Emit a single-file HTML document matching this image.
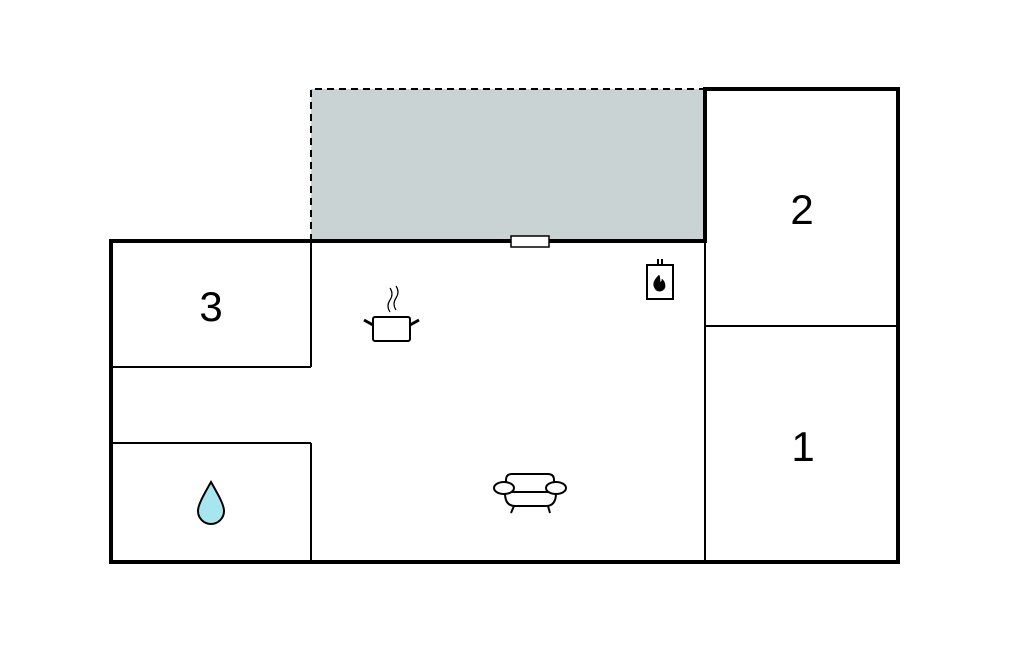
<!DOCTYPE html>
<html><head><meta charset="utf-8"><style>
html,body{margin:0;padding:0;background:#fff;}
svg{display:block;}
</style></head><body>
<svg width="1024" height="652" viewBox="0 0 1024 652" xmlns="http://www.w3.org/2000/svg">
<!-- terrace -->
<rect x="311" y="89" width="394" height="152" fill="#c9d3d3"/>
<path d="M311 241 V89 H705" fill="none" stroke="#000" stroke-width="2" stroke-dasharray="7,5"/>
<!-- inner walls -->
<g stroke="#000" stroke-width="2" fill="none">
<line x1="311" y1="241" x2="311" y2="367"/>
<line x1="111" y1="367" x2="311" y2="367"/>
<line x1="111" y1="443" x2="311" y2="443"/>
<line x1="311" y1="443" x2="311" y2="562"/>
<line x1="705" y1="241" x2="705" y2="562"/>
<line x1="705" y1="326" x2="898" y2="326"/>
</g>
<!-- outer walls -->
<path d="M111 241 H705 V89 H898 V562 H111 Z" fill="none" stroke="#000" stroke-width="4"/>
<!-- door -->
<rect x="511" y="236" width="38" height="11" fill="#fff" stroke="#000" stroke-width="1.5"/>
<!-- labels -->
<g font-family="Liberation Sans, sans-serif" font-size="42" text-anchor="middle" fill="#000">
<text x="802" y="224">2</text>
<text x="211" y="321">3</text>
<text x="803" y="461">1</text>
</g>
<!-- pot -->
<g stroke="#000" fill="none" stroke-width="2">
<rect x="373" y="317" width="37" height="24" rx="2" fill="#fff"/>
<line x1="373" y1="325" x2="364" y2="320" stroke-width="3"/>
<line x1="410" y1="325" x2="419" y2="320" stroke-width="3"/>
<path d="M390 312 q-4 -6 0 -12 q4 -6 0 -12" stroke-width="1.2"/>
<path d="M396 310 q-4 -6 0 -12 q4 -6 0 -12" stroke-width="1.2"/>
</g>
<!-- heater -->
<g stroke="#000" fill="none" stroke-width="2">
<line x1="658" y1="259" x2="658" y2="265"/>
<line x1="662" y1="259" x2="662" y2="265"/>
<rect x="647" y="265" width="26" height="34" fill="#fff"/>
<path d="M659 275 c-6 6 -7 10 -3 15 c4 3 10 0 9 -5 c0 -3 -2 -5 -3 -6 c0 2 -1 3 -2 3 c0 -3 0 -5 -1 -7z" fill="#000" stroke-width="0.5"/>
</g>
<!-- sofa -->
<g stroke="#000" fill="#fff" stroke-width="2">
<path d="M506 493 v-13 q0 -6 6 -6 h36 q6 0 6 6 v13"/>
<path d="M505 493 q0 13 10 13 h31 q10 0 10 -13"/>
<line x1="514" y1="506" x2="511" y2="513"/>
<line x1="548" y1="506" x2="550" y2="513"/>
<line x1="506" y1="492" x2="554" y2="492"/>
<ellipse cx="504" cy="488" rx="10" ry="6"/>
<ellipse cx="556" cy="488" rx="10" ry="6"/>
</g>
<!-- water drop -->
<path d="M211 482 C203 496 198 505 198 511 a13 13 0 0 0 26 0 C224 505 219 496 211 482 Z" fill="#a8e6ef" stroke="#000" stroke-width="2"/>
</svg>
</body></html>
